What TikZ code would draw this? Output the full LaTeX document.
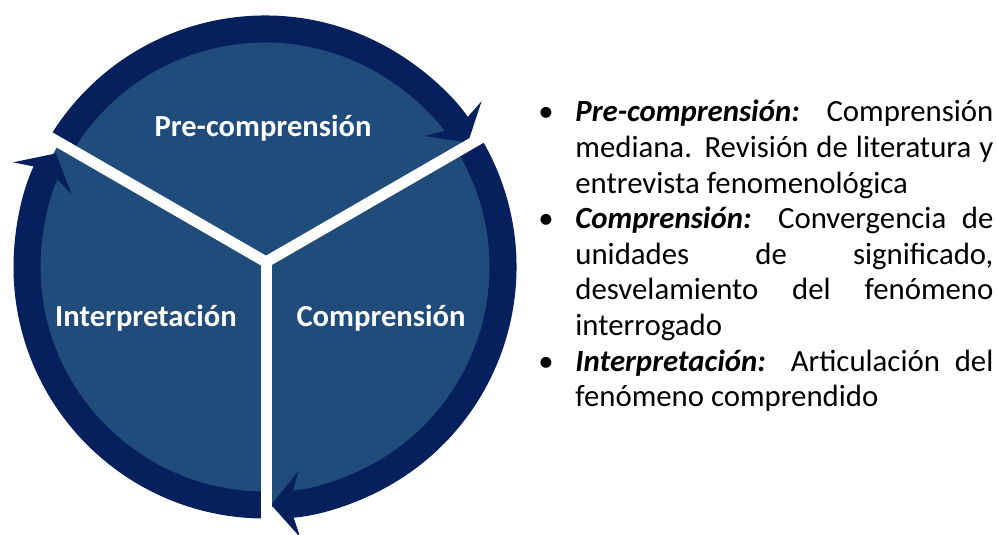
\documentclass[tikz,border=0pt]{standalone}
\usepackage{fontspec}
\setmainfont{Carlito}
\usetikzlibrary{arrows.meta}
\usetikzlibrary{positioning}
\definecolor{ringnavy}{RGB}{6,32,94}
\definecolor{diskblue}{RGB}{31,76,122}
\newcommand\bulletlabel[1]{#1\hfil}

\begin{document}
\begin{tikzpicture}[x=0.5pt,y=0.5pt,
  ringarc/.style={draw=ringnavy, line width=13.5pt,
    -{Stealth[length=14pt,width=33pt,inset=5pt]}},
  spoke/.style={draw=white, line width=5.5pt},
  sector/.style={text=white, anchor=base,
    font=\bfseries\fontsize{15.3}{18}\selectfont}]
\useasboundingbox (0,0) rectangle (997,535);
\coordinate (c) at (265,268);
\coordinate (jn) at (266,273);
\fill[diskblue] (c) circle (240);
% the three arrows round the ring
\draw[ringarc] ([shift={(150:238)}]c) arc[start angle=150,end angle=31.5,radius=238];
\draw[ringarc] ([shift={(30:238)}]c) arc[start angle=30,end angle=-88.5,radius=238];
\draw[ringarc] ([shift={(270:238)}]c) arc[start angle=270,end angle=151.5,radius=238];
% white spokes
\coordinate (s1) at ([shift={(30:265)}]jn);
\coordinate (s2) at ([shift={(150:265)}]jn);
\coordinate (s3) at ([shift={(270:265)}]jn);
\draw[spoke] (s1) -- (jn) -- (s2);
\draw[spoke] (jn) -- (s3);
\node[sector] (pre) at (263,398) {Pre-comprensión};
\node[sector] (interp) at (146,208) {Interpretación};
\node[sector] (comp) at (381,208) {Comprensión};
\node[anchor=north west, inner sep=0pt, text width=227.5pt, align=justify,
  font=\fontsize{15.4}{17.8}\selectfont] (notes) at (538,449) {%
\begin{list}{\textbullet}{\setlength{\leftmargin}{18.5pt}\setlength{\labelwidth}{18.5pt}%
  \setlength{\labelsep}{0pt}\setlength{\itemsep}{0pt}\setlength{\parsep}{0pt}%
  \setlength{\topsep}{0pt}\setlength{\partopsep}{0pt}\let\makelabel\bulletlabel}
\item \textbf{\textit{Pre-comprensión:}} Comprensión\linebreak mediana. Revisión de literatura y\linebreak entrevista fenomenológica
\item \textbf{\textit{Comprensión:}} Convergencia de\linebreak unidades de significado,\linebreak desvelamiento del fenómeno\linebreak interrogado
\item \textbf{\textit{Interpretación:}} Articulación del\linebreak fenómeno comprendido
\end{list}};
\end{tikzpicture}
\end{document}
